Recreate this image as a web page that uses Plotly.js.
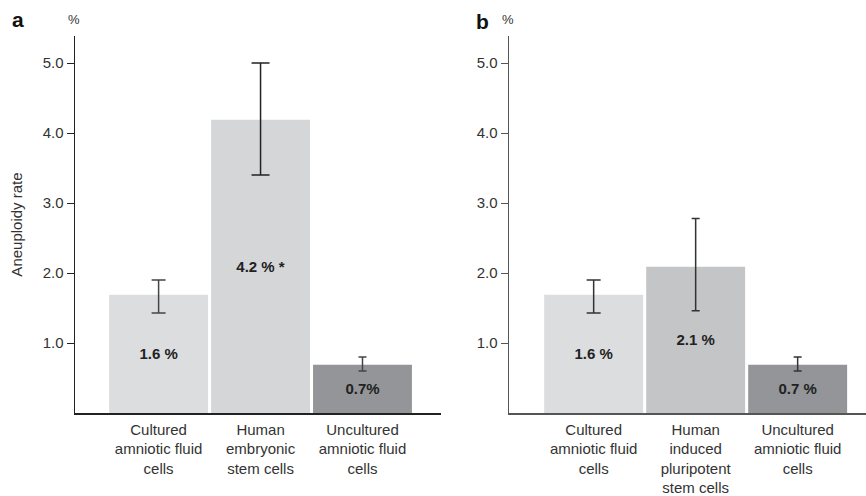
<!DOCTYPE html>
<html>
<head>
<meta charset="utf-8">
<script src="https://cdn.plot.ly/plotly-3.0.1.min.js"></script>
<style>html,body{margin:0;padding:0;background:#fff;}#chart{width:866px;height:496px;}</style>
</head>
<body>
<div id="chart"></div>
<script>
// Panel a
const catsA = ["Cultured<br>amniotic fluid<br>cells", "Human<br>embryonic<br>stem cells", "Uncultured<br>amniotic fluid<br>cells"];
const valsA = [1.69, 4.19, 0.69];
const errHighA = [1.9, 5.0, 0.8];
const errLowA = [1.43, 3.4, 0.6];
const labelsA = ["1.6 %", "4.2 % *", "0.7%"];
// Panel b
const catsB = ["Cultured<br>amniotic fluid<br>cells", "Human<br>induced<br>pluripotent<br>stem cells", "Uncultured<br>amniotic fluid<br>cells"];
const valsB = [1.69, 2.09, 0.69];
const errHighB = [1.9, 2.78, 0.8];
const errLowB = [1.43, 1.46, 0.6];
const labelsB = ["1.6 %", "2.1 %", "0.7 %"];
const yTicks = [1, 2, 3, 4, 5];

const colorsA = ["#dcdddf", "#d5d6d8", "#939598"];
const colorsB = ["#dcdddf", "#c4c5c7", "#939598"];
const capA = [7, 9, 4];
const capB = [7, 4, 4];
const errColA = ["#444", "#222", "#444"];
const errColB = ["#333", "#333", "#333"];

const FAM = "Liberation Sans, Arial, sans-serif";
const traces = [];
function addPanel(cats, vals, hi, lo, labels, colors, caps, ecols, xa, ya) {
  for (let i = 0; i < cats.length; i++) {
    traces.push({
      type: "bar", x: [cats[i]], y: [vals[i]], xaxis: xa, yaxis: ya,
      width: 0.97,
      marker: {color: colors[i], line: {width: 0}},
      text: [labels[i]], textposition: "inside", insidetextanchor: "middle",
      textfont: {family: FAM, size: 15, color: "#222", weight: "bold"},
      constraintext: "none",
      error_y: {type: "data", symmetric: false, array: [hi[i] - vals[i]], arrayminus: [vals[i] - lo[i]],
        color: ecols[i], thickness: 1.5, width: caps[i]},
      hoverinfo: "skip", showlegend: false
    });
  }
}
addPanel(catsA, valsA, errHighA, errLowA, labelsA, colorsA, capA, errColA, "x", "y");
addPanel(catsB, valsB, errHighB, errLowB, labelsB, colorsB, capB, errColB, "x2", "y2");

const W = 866, H = 496;
const yDom = [(H - 413) / H, (H - 36) / H];
function yAxis(anchor, lineCol) {
  return {domain: yDom, anchor: anchor, range: [0, 5.386], tickvals: yTicks,
    tickformat: ".1f", ticks: "outside", ticklen: 7, tickcolor: lineCol, tickwidth: 1,
    showline: true, linecolor: lineCol, linewidth: 1.5, showgrid: false, zeroline: false,
    tickfont: {family: FAM, size: 15, color: "#333"}, fixedrange: true};
}
function xAxis(dom, anchor, range, lineCol) {
  return {domain: dom, anchor: anchor, range: range, type: "category",
    showline: true, linecolor: lineCol, linewidth: 1.5, ticks: "", showgrid: false, zeroline: false,
    ticklabelstandoff: 2,
    tickfont: {family: FAM, size: 15, color: "#333"}, fixedrange: true};
}

const layout = {
  width: W, height: H, margin: {l: 0, r: 0, t: 0, b: 0},
  paper_bgcolor: "#fff", plot_bgcolor: "#fff", barmode: "overlay",
  font: {family: FAM, size: 14, color: "#333"},
  xaxis: xAxis([75 / W, 441 / W], "y", [-0.82, 2.77], "#222"),
  yaxis: Object.assign(yAxis("x", "#222"), {title: {text: "Aneuploidy rate", font: {family: FAM, size: 15, color: "#333"}, standoff: 16}}),
  xaxis2: xAxis([509 / W, 1], "y2", [-0.83, 2.67], "#555"),
  yaxis2: yAxis("x2", "#555"),
  annotations: [
    {text: "<b>a</b>", xref: "paper", yref: "paper", x: 10 / W, y: (H - 20) / H, xanchor: "left", yanchor: "middle", showarrow: false, font: {family: FAM, size: 21, color: "#111"}},
    {text: "<b>b</b>", xref: "paper", yref: "paper", x: 474 / W, y: (H - 21) / H, xanchor: "left", yanchor: "middle", showarrow: false, font: {family: FAM, size: 21, color: "#111"}},
    {text: "%", xref: "paper", yref: "paper", x: 74 / W, y: (H - 19) / H, xanchor: "center", yanchor: "middle", showarrow: false, font: {family: FAM, size: 13, color: "#333"}},
    {text: "%", xref: "paper", yref: "paper", x: 508 / W, y: (H - 19) / H, xanchor: "center", yanchor: "middle", showarrow: false, font: {family: FAM, size: 13, color: "#333"}}
  ]
};
Plotly.newPlot("chart", traces, layout, {displayModeBar: false, staticPlot: true});
</script>
</body>
</html>
